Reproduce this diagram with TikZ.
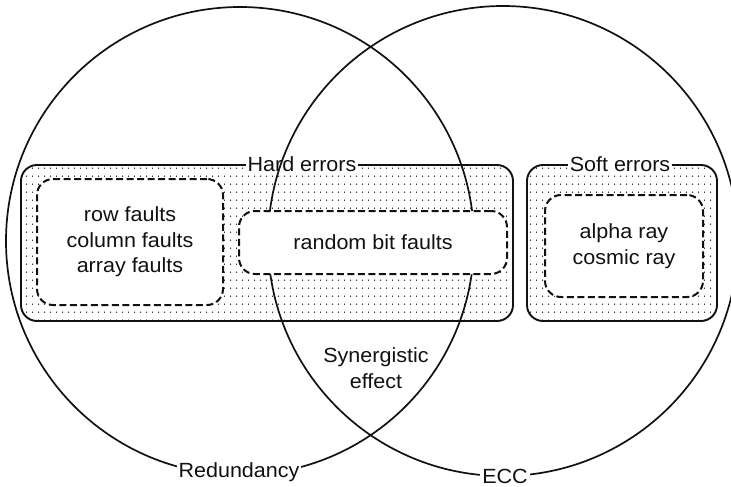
\documentclass[tikz,border=0pt]{standalone}
\usepackage{fontspec}
\setmainfont{Liberation Sans}[FakeStretch=1.05]
\usetikzlibrary{patterns}
\definecolor{ink}{HTML}{111111}

% sparse dot screen used to shade the error groups
\pgfdeclarepatternformonly{sparsedots}{\pgfpointorigin}{\pgfqpoint{6pt}{7.8pt}}{\pgfqpoint{6pt}{7.8pt}}{%
  \pgfpathcircle{\pgfqpoint{3pt}{3.9pt}}{0.75pt}\pgfusepath{fill}}

\begin{document}
\begin{tikzpicture}[x=1pt,y=-1pt,
  every node/.style={font=\fontsize{20.5}{25.5}\selectfont, text=ink},
  group/.style={draw=ink, line width=1.9pt, rounded corners=16pt, pattern=sparsedots, pattern color=ink, inner sep=0pt},
  member/.style={draw=ink, line width=2pt, dash pattern=on 7pt off 3.5pt, rounded corners=16pt, fill=white, inner sep=0pt, align=center},
  field/.style={circle, draw=ink, line width=1.7pt, inner sep=0pt, minimum size=#1},
  tag/.style={fill=white, inner sep=2pt},
]
\fill[white] (0,0) rectangle (731,487);
\useasboundingbox (0,0) rectangle (731,487);
\clip (0,0) rectangle (731,487);

% shaded error groups
\node[group, minimum width=492pt, minimum height=156pt] (hard) at (267,243) {};
\node[group, minimum width=190pt, minimum height=156pt] (soft) at (622,243) {};
\node[tag, anchor=base] (hardlbl) at (302,171) {Hard errors};
\node[tag, anchor=base] (softlbl) at (620,171) {Soft errors};

% the two remedies
\node[field=468pt] (red) at (240,241) {};
\node[field=470pt] (ecc) at (503,241) {};

% fault classes
\node[member, minimum width=186pt, minimum height=126pt] (rowbox) at (130,242) {row faults\\column faults\\array faults};
\node[member, minimum width=268pt, minimum height=63pt] (randbox) at (373,242.5) {random bit faults};
\node[member, minimum width=158pt, minimum height=102pt] (softbox) at (624,246) {alpha ray\\cosmic ray};

\node[align=center] (syn) at (376,368) {Synergistic\\effect};
\node[tag, anchor=base] (redlbl) at (239,477) {Redundancy};
\node[tag, anchor=base] (ecclbl) at (505,483) {ECC};
\end{tikzpicture}
\end{document}
